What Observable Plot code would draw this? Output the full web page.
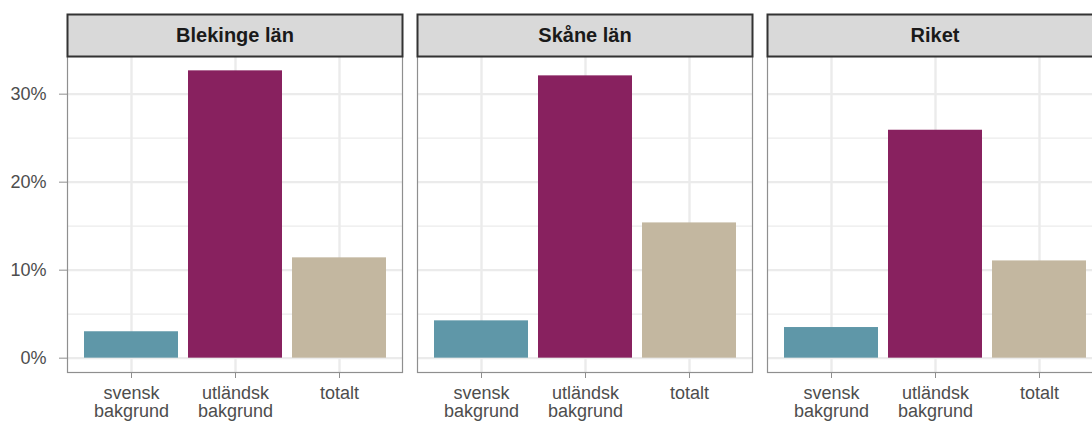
<!DOCTYPE html>
<html>
<head>
<meta charset="utf-8">
<script src="https://cdn.jsdelivr.net/npm/d3@7"></script>
<script src="https://cdn.jsdelivr.net/npm/@observablehq/plot@0.6"></script>
<style>
  html, body { margin: 0; padding: 0; background: #fff; overflow: hidden; }
</style>
</head>
<body>
<div id="chart"></div>
<script>
const regions = ["Blekinge län", "Skåne län", "Riket"];
const groups = ["svensk bakgrund", "utländsk bakgrund", "totalt"];
const blekingeValues = [0.030, 0.3265, 0.114];
const skaneValues = [0.0424, 0.3208, 0.1537];
const riketValues = [0.0348, 0.259, 0.1105];
const groupColors = ["#5f97a8", "#88215f", "#c3b7a0"];
const yTicks = [0, 0.1, 0.2, 0.3];
const yMinorTicks = [0.05, 0.15, 0.25];

const seriesByRegion = [blekingeValues, skaneValues, riketValues];
const data = regions.flatMap((r, i) =>
  groups.map((g, j) => ({region: r, group: g, value: seriesByRegion[i][j]}))
);

const font = "'Liberation Sans', Arial, Helvetica, sans-serif";

const chart = Plot.plot({
  width: 1110,
  height: 421,
  marginLeft: 66,
  marginRight: 6,
  marginTop: 56,
  marginBottom: 49,
  style: {fontFamily: font, fontSize: "18px", maxWidth: "none", background: "#fff", color: "#4d4d4d"},
  fx: {domain: regions, paddingInner: 0.0427, paddingOuter: 0, axis: null, label: null},
  x: {domain: groups, paddingInner: 0.1, paddingOuter: 0.15, label: null},
  y: {domain: [-0.0163, 0.3428], label: null},
  color: {domain: groups, range: groupColors},
  marks: [
    Plot.gridY(yMinorTicks, {stroke: "#ebebeb", strokeOpacity: 1, strokeWidth: 1.3}),
    Plot.gridY(yTicks, {stroke: "#ebebeb", strokeOpacity: 1, strokeWidth: 2.4}),
    Plot.gridX({stroke: "#ebebeb", strokeOpacity: 1, strokeWidth: 2.4}),
    Plot.barY(data, {fx: "region", x: "group", y: "value", fill: "group"}),
    Plot.frame({stroke: "#8f8f8f", strokeWidth: 1.2}),
    Plot.frame({fill: "#d9d9d9", stroke: "#333333", strokeWidth: 2, insetTop: -42, insetBottom: 316}),
    Plot.text(regions, {fx: d => d, text: d => d, frameAnchor: "top", lineAnchor: "middle", dy: -21, fontWeight: "bold", fontSize: 20, fill: "#1a1a1a"}),
    Plot.axisY(yTicks, {tickFormat: d3.format(".0%"), tickSize: 8, tickPadding: 13, fontSize: 18, stroke: "#8f8f8f", fill: "#4d4d4d", label: null}),
    Plot.axisX({tickSize: 6, tickPadding: 7, fontSize: 18, stroke: "#8f8f8f", fill: "#4d4d4d", label: null, lineHeight: 1.03, tickFormat: d => d.replace(" ", "\n")})
  ]
});
document.getElementById("chart").appendChild(chart);
</script>
</body>
</html>
